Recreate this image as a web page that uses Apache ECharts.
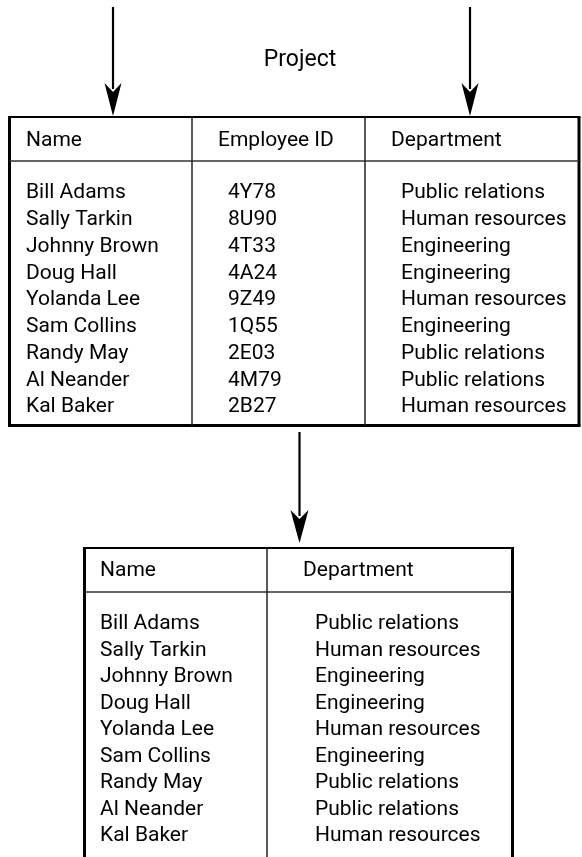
<!DOCTYPE html>
<html><head><meta charset="utf-8">
<script src="https://cdn.jsdelivr.net/npm/echarts@6/dist/echarts.min.js"></script>
<style>html,body{margin:0;padding:0;background:#fff}#c{width:582px;height:857px}</style>
</head><body><div id="c"></div>
<script>
// ---- data ----
const title = 'Project';
const headersFull = ['Name', 'Employee ID', 'Department'];
const headersProjected = ['Name', 'Department'];
const names = ['Bill Adams', 'Sally Tarkin', 'Johnny Brown', 'Doug Hall', 'Yolanda Lee', 'Sam Collins', 'Randy May', 'Al Neander', 'Kal Baker'];
const employeeIds = ['4Y78', '8U90', '4T33', '4A24', '9Z49', '1Q55', '2E03', '4M79', '2B27'];
const departments = ['Public relations', 'Human resources', 'Engineering', 'Engineering', 'Human resources', 'Engineering', 'Public relations', 'Public relations', 'Human resources'];

// ---- layout / style (kept apart from data) ----
const W = 582, H = 857;
const FONT = '21px Roboto';
const TITLE_FONT = '23px Roboto';
const layout = {
  full: { left: 9.5, right: 579, top: 117, headerLine: 161, bottom: 425.5, dividers: [192, 365],
          headerY: 141, headerX: [26, 218, 391], cellX: [26, 228, 401], firstRow: 193, rowGap: 26.75, closed: true },
  proj: { left: 84.5, right: 512.5, top: 548, headerLine: 592, bottom: 860, dividers: [267],
          headerY: 571, headerX: [100, 303], cellX: [100, 315], firstRow: 624, rowGap: 26.5, closed: false },
  arrows: [ { x: 113, y0: 7, y1: 116, hw: 8.5, hl: 33 }, { x: 470, y0: 7, y1: 116, hw: 8.5, hl: 33 }, { x: 299.5, y0: 432, y1: 543, hw: 9, hl: 33 } ],
  title: { x: 300, y: 60 }
};

const chart = echarts.init(document.getElementById('c'), null, { renderer: 'canvas' });

function txt(p, s, font, align) {
  return { type: 'text', x: p[0], y: p[1], style: { text: s, font: font, fill: '#000', align: align || 'left', verticalAlign: 'middle', textAlign: align || 'left', textVerticalAlign: 'middle' } };
}
function line(p1, p2, w, c) {
  return { type: 'line', shape: { x1: p1[0], y1: p1[1], x2: p2[0], y2: p2[1] }, style: { stroke: c || '#000', lineWidth: w } };
}

function frameItem(L, headers) {
  return function (api) {
    const ch = [];
    const tl = api.coord([L.left, L.top]), tr = api.coord([L.right, L.top]);
    const bl = api.coord([L.left, L.bottom]), br = api.coord([L.right, L.bottom]);
    ch.push(line([tl[0] - 1.5, tl[1]], [tr[0] + 1.5, tr[1]], 2.2));
    ch.push(line(tl, bl, 3));
    ch.push(line(tr, br, 3));
    if (L.closed) ch.push(line([bl[0] - 1.5, bl[1]], [br[0] + 1.5, br[1]], 3));
    const hl = api.coord([L.left, L.headerLine]), hr = api.coord([L.right, L.headerLine]);
    ch.push(line(hl, hr, 1.5, '#333'));
    L.dividers.forEach(function (d) {
      ch.push(line(api.coord([d, L.top]), api.coord([d, L.bottom]), 1.5, '#222'));
    });
    headers.forEach(function (h, j) {
      ch.push(txt(api.coord([L.headerX[j], L.headerY]), h, FONT));
    });
    return ch;
  };
}

const fullFrame = frameItem(layout.full, headersFull);
const projFrame = frameItem(layout.proj, headersProjected);

const rowsFull = names.map(function (n, i) { return [i, i, n, employeeIds[i], departments[i]]; });
const rowsProj = names.map(function (n, i) { return [i, i, n, departments[i]]; });

function rowRender(L, cols) {
  return function (params, api) {
    const i = api.value(0);
    const y = L.firstRow + i * L.rowGap;
    const row = params.dataIndex;
    const children = cols.map(function (arr, j) {
      return txt(api.coord([L.cellX[j], y]), arr[row], FONT);
    });
    return { type: 'group', children: children };
  };
}

function arrowsRender(params, api) {
  const ch = [];
  layout.arrows.forEach(function (a) {
    const p0 = api.coord([a.x, a.y0]);
    const p1 = api.coord([a.x, a.y1 - a.hl + 6]);
    ch.push(line(p0, p1, 2.2));
    const tip = api.coord([a.x, a.y1]);
    const lb = api.coord([a.x - a.hw, a.y1 - a.hl]);
    const rb = api.coord([a.x + a.hw, a.y1 - a.hl]);
    const notch = api.coord([a.x, a.y1 - a.hl + 9]);
    const lm = api.coord([a.x - a.hw * 0.45, a.y1 - a.hl * 0.45]);
    const rm = api.coord([a.x + a.hw * 0.45, a.y1 - a.hl * 0.45]);
    ch.push({ type: 'polygon', shape: { points: [tip, lm, lb, notch, rb, rm] }, style: { fill: '#000' } });
  });
  ch.push(txt(api.coord([layout.title.x, layout.title.y]), title, TITLE_FONT, 'center'));
  return { type: 'group', children: ch };
}

chart.setOption({
  animation: false,
  backgroundColor: '#fff',
  grid: { left: 0, right: 0, top: 0, bottom: 0 },
  xAxis: { type: 'value', min: 0, max: W, show: false },
  yAxis: { type: 'value', min: 0, max: H, inverse: true, show: false },
  series: [
    { type: 'custom', silent: true, clip: false, data: [[0, 0]],
      renderItem: function (params, api) { return { type: 'group', children: fullFrame(api).concat(projFrame(api)) }; } },
    { type: 'custom', silent: true, clip: false, data: [[0, 0]], renderItem: arrowsRender },
    { type: 'custom', silent: true, clip: false, data: rowsFull, encode: { x: 0, y: 1 },
      renderItem: rowRender(layout.full, [names, employeeIds, departments]) },
    { type: 'custom', silent: true, clip: false, data: rowsProj, encode: { x: 0, y: 1 },
      renderItem: rowRender(layout.proj, [names, departments]) }
  ]
});
</script></body></html>
